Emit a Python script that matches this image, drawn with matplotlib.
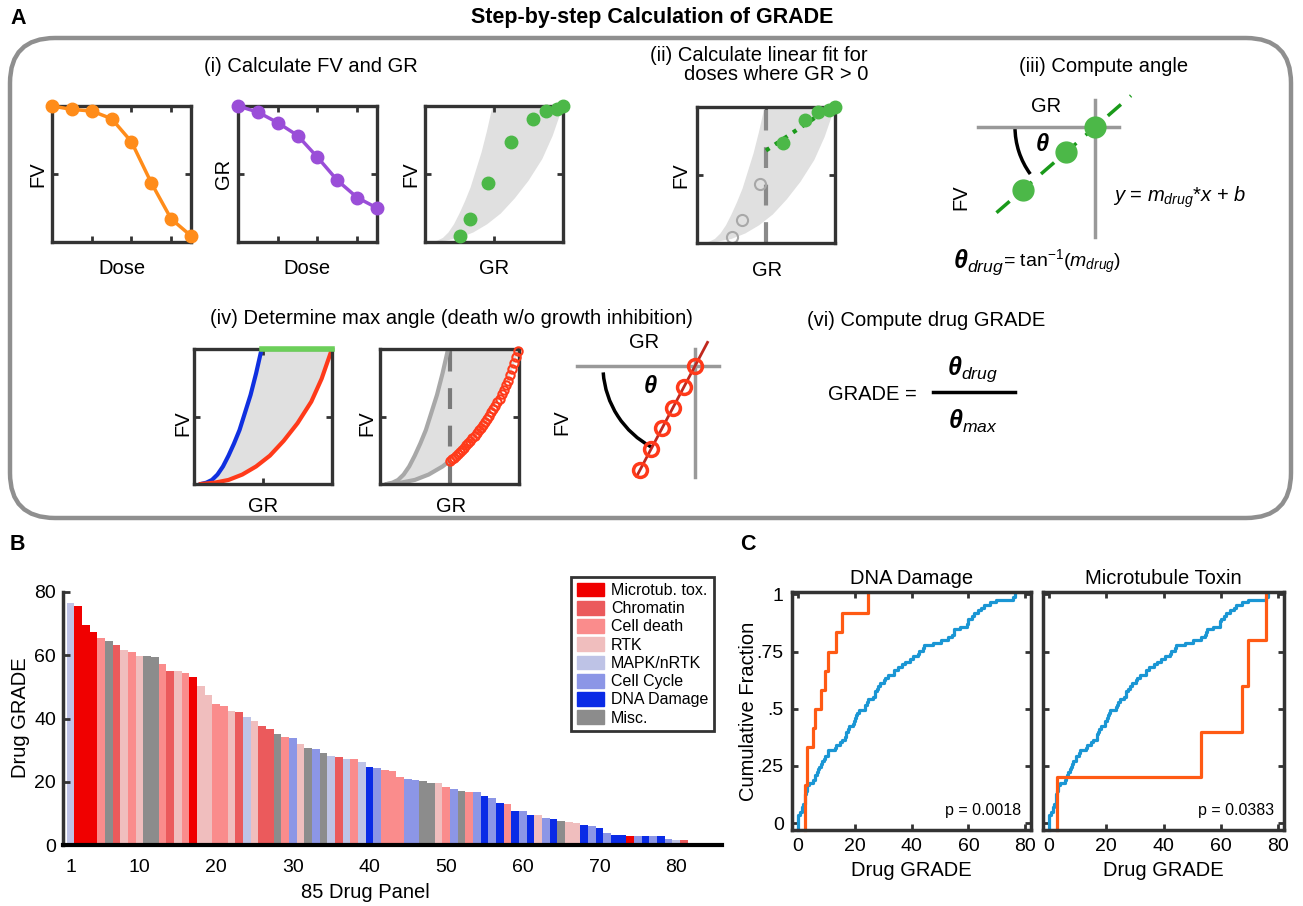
import numpy as np
import matplotlib
matplotlib.use('Agg')
import matplotlib.pyplot as plt
from matplotlib.patches import FancyBboxPatch, Arc, Patch

plt.rcParams['font.family'] = ['Liberation Sans', 'DejaVu Sans']
plt.rcParams['mathtext.fontset'] = 'custom'
plt.rcParams['mathtext.rm'] = 'Liberation Sans'
plt.rcParams['mathtext.it'] = 'Liberation Sans:italic'
plt.rcParams['mathtext.bf'] = 'Liberation Sans:bold:italic'

# ---- data ----
# panel A (i): example dose response
dose = [0, 1, 2, 3, 4, 5, 6, 7]
fv = [1.0, 0.975, 0.963, 0.907, 0.737, 0.435, 0.17, 0.045]
gr = [1.0, 0.91, 0.755, 0.566, 0.247, -0.093, -0.346, -0.5]

# theoretical FV/GR band (GR on x, FV on y)
band_left_gr = [-0.90, -0.82, -0.74, -0.66, -0.58, -0.50, -0.42, -0.34, -0.26, -0.18, -0.10, -0.02]
band_left_fv = [0.00, 0.01, 0.03, 0.07, 0.13, 0.21, 0.30, 0.40, 0.53, 0.66, 0.82, 1.00]
band_right_gr = [-0.90, -0.70, -0.50, -0.30, -0.10, 0.00, 0.10, 0.30, 0.50, 0.70, 0.85, 1.00]
band_right_fv = [0.00, 0.01, 0.03, 0.07, 0.13, 0.17, 0.21, 0.32, 0.45, 0.61, 0.78, 1.00]

# max-angle points along the upper bound (iv)
max_gr = [0.00, 0.03, 0.06, 0.09, 0.12, 0.15, 0.18, 0.21, 0.24, 0.27, 0.30, 0.33,
          0.36, 0.39, 0.42, 0.45, 0.48, 0.51, 0.54, 0.57, 0.60, 0.63, 0.66, 0.69,
          0.72, 0.75, 0.78, 0.81, 0.84, 0.87, 0.90, 0.93, 0.96, 0.99]
max_fv = [0.170, 0.182, 0.194, 0.206, 0.221, 0.237, 0.253, 0.270, 0.287, 0.303, 0.320, 0.339,
          0.358, 0.378, 0.398, 0.418, 0.437, 0.458, 0.481, 0.505, 0.530, 0.555, 0.580, 0.605,
          0.632, 0.665, 0.698, 0.732, 0.766, 0.807, 0.851, 0.895, 0.940, 0.985]

# schematic angle diagrams
iii_slope = 0.87
iii_pts = [-0.724, -0.29, 0.0]
iv_slope = 1.89
iv_pts = [0.0, -0.11, -0.22, -0.33, -0.44, -0.55]

# panel B: 85 drug GRADE values and classes
grade = [76.4, 75.6, 69.6, 67.5, 65.4, 64.4, 63.2, 61.8, 61.1, 59.9,
         59.7, 59.6, 57.1, 55.1, 54.9, 54.3, 53.0, 50.2, 47.5, 44.5,
         43.9, 42.5, 42.2, 40.4, 39.3, 37.7, 36.8, 35.1, 34.0, 33.9,
         31.9, 30.7, 30.5, 29.0, 28.3, 27.7, 27.1, 27.1, 26.4, 24.8,
         24.3, 23.7, 23.5, 21.4, 21.0, 20.6, 20.3, 19.7, 19.5, 18.2,
         17.6, 17.1, 16.9, 16.8, 15.5, 14.9, 13.3, 13.1, 10.8, 10.6,
         9.6, 9.4, 8.5, 8.1, 7.6, 7.3, 6.8, 6.2, 6.0, 5.5,
         3.9, 3.3, 3.1, 2.9, 2.7, 2.7, 2.7, 2.7, 2.0, 1.6,
         1.6, 0.7, 0.0, 0.0, 0.0]
drug_class = ['MAPK', 'MT', 'MT', 'MT', 'CD', 'MISC', 'CH', 'RTK', 'CD', 'RTK',
              'MISC', 'MISC', 'CD', 'CH', 'RTK', 'CD', 'MT', 'RTK', 'RTK', 'CD',
              'CD', 'RTK', 'CH', 'MAPK', 'RTK', 'CH', 'CH', 'MISC', 'CD', 'CC',
              'RTK', 'MISC', 'CC', 'MISC', 'MAPK', 'CH', 'MAPK', 'CD', 'MAPK', 'DNA',
              'CC', 'CD', 'CD', 'CD', 'CC', 'CC', 'MISC', 'MISC', 'RTK', 'CD',
              'CC', 'MISC', 'CD', 'CC', 'DNA', 'CC', 'DNA', 'CD', 'DNA', 'CC',
              'DNA', 'RTK', 'CC', 'DNA', 'MISC', 'RTK', 'RTK', 'DNA', 'CC', 'DNA',
              'CC', 'DNA', 'DNA', 'MT', 'CC', 'DNA', 'CC', 'DNA', 'CC', 'MAPK',
              'CH', 'CC', 'MISC', 'MISC', 'MISC']
class_keys = ['MT', 'CH', 'CD', 'RTK', 'MAPK', 'CC', 'DNA', 'MISC']
class_names = ['Microtub. tox.', 'Chromatin', 'Cell death', 'RTK',
               'MAPK/nRTK', 'Cell Cycle', 'DNA Damage', 'Misc.']
class_colors = ['#f00000', '#eb5a5c', '#fa8c8c', '#f0bebe',
                '#bec3e6', '#8c96e6', '#0a2be6', '#8c8c8c']

# panel C
p_dna = 'p = 0.0018'
p_mt = 'p = 0.0383'

W, H = 1303, 906
fig = plt.figure(figsize=(W / 100, H / 100), dpi=100)
DARK = '#333333'
FS = 14.5


def px_axes(x0, y0, x1, y1):
    return fig.add_axes([x0 / W, 1 - y1 / H, (x1 - x0) / W, (y1 - y0) / H])


def ftext(x, y, s, **kw):
    kw.setdefault('ha', 'center')
    kw.setdefault('va', 'center')
    kw.setdefault('fontsize', FS)
    return fig.text(x / W, 1 - y / H, s, **kw)


# background layer for frame
bg = fig.add_axes([0, 0, 1, 1])
bg.set_xlim(0, W)
bg.set_ylim(H, 0)
bg.axis('off')
bg.add_patch(FancyBboxPatch((10, 38), 1281, 480, boxstyle='round,pad=0,rounding_size=45',
                            fc='none', ec='#8f8f8f', lw=3.2))
bg.plot([933, 1015], [392, 392], color='black', lw=2.5)

ftext(10, 18, 'A', ha='left', fontsize=15.5, fontweight='bold')
ftext(10, 545, 'B', ha='left', fontsize=15.5, fontweight='bold')
ftext(740, 545, 'C', ha='left', fontsize=15.5, fontweight='bold')
ftext(652, 18, 'Step-by-step Calculation of GRADE', fontsize=15.5, fontweight='bold')


def schem_axes(x0, y0, x1, y1):
    ax = px_axes(x0, y0, x1, y1)
    for s in ax.spines.values():
        s.set_color(DARK)
        s.set_linewidth(2.4)
        s.set_zorder(5)
    ax.tick_params(direction='in', length=4, width=2, color=DARK, top=True, right=True,
                   labelbottom=False, labelleft=False)
    return ax


def band(ax):
    xs = list(band_left_gr) + [1.0] + list(band_right_gr[::-1])
    ys = list(band_left_fv) + [1.0] + list(band_right_fv[::-1])
    ax.fill(xs, ys, color='#e0e0e0', lw=0, zorder=1)


# (i)
ftext(311, 67, '(i) Calculate FV and GR')
ax = schem_axes(52, 106, 191, 242)
ax.plot(dose, fv, '-o', color='#ff8c1a', lw=2.5, ms=9, clip_on=False, zorder=6)
ax.set_xlim(0, 7); ax.set_ylim(0, 1)
ax.set_xticks([2, 4, 6]); ax.set_yticks([0.5])
ftext(38, 174, 'FV', rotation=90)
ftext(122, 268, 'Dose')

ax = schem_axes(238, 106, 377, 242)
ax.plot(dose, gr, '-o', color='#9a4ed8', lw=2.5, ms=9, clip_on=False, zorder=6)
ax.set_xlim(0, 7); ax.set_ylim(-1, 1)
ax.set_xticks([2, 4, 6]); ax.set_yticks([0])
ftext(224, 174, 'GR', rotation=90)
ftext(307, 268, 'Dose')

ax = schem_axes(425, 106, 563, 242)
band(ax)
ax.plot(gr, fv, 'o', color='#4cb848', ms=9, clip_on=False, zorder=6)
ax.set_xlim(-1, 1); ax.set_ylim(0, 1)
ax.set_xticks([0]); ax.set_yticks([0.5])
ftext(411, 174, 'FV', rotation=90)
ftext(494, 268, 'GR')

# (ii)
fig.text(868 / W, 1 - 65 / H, '(ii) Calculate linear fit for\ndoses where GR > 0',
         ha='right', va='center', multialignment='right', fontsize=FS, linespacing=1.0)
ax = schem_axes(697, 107, 835, 243)
band(ax)
ax.axvline(0, color='#8a8a8a', lw=3, dashes=(5, 4), zorder=2)
gr_a, fv_a = np.array(gr), np.array(fv)
pos = gr_a > 0
ax.plot(gr_a[~pos], fv_a[~pos], 'o', mfc='none', mec='#a8a8a8', mew=1.5, ms=8, zorder=4)
m_fit, b_fit = np.polyfit(gr_a[pos], fv_a[pos], 1)
ax.plot([0, 1], [b_fit, m_fit + b_fit], color='#1a9a1a', lw=3, ls=(0, (1, 1.6)), zorder=4,
        clip_on=False)
ax.plot(gr_a[pos], fv_a[pos], 'o', color='#4cb848', ms=9, clip_on=False, zorder=6)
ax.set_xlim(-1, 1); ax.set_ylim(0, 1)
ax.set_xticks([0]); ax.set_yticks([0.5])
ftext(681, 175, 'FV', rotation=90)
ftext(767, 270, 'GR')

# (iii) angle schematic, origin at the GR/FV cross
ftext(1104, 67, '(iii) Compute angle')
ax = px_axes(970, 90, 1140, 240)
ax.set_xlim(-1.25, 0.45); ax.set_ylim(-1.13, 0.37)
ax.axis('off')
ax.plot([-1.17, 0.24], [0, 0], color='#999999', lw=2.5)
ax.plot([0, 0], [0.27, -1.1], color='#999999', lw=2.5)
xl = np.array([-0.985, 0.36])
ax.plot(xl, iii_slope * xl, color='#1a9a1a', lw=2.5, dashes=(5, 3.5))
ax.plot(iii_pts, iii_slope * np.array(iii_pts), 'o', color='#4cb848', ms=15, zorder=5)
ax.add_patch(Arc((0, 0), 1.6, 1.6, theta1=180, theta2=216, color='black', lw=2.5))
ftext(1046, 107, 'GR')
ftext(961, 197, 'FV', rotation=90)
ftext(1042, 145, r'$\mathbf{\theta}$', fontsize=17)
ftext(1113, 197, r'$y$ = $m_{drug}$*$x$ + $b$', ha='left', fontsize=14.5)
ftext(953, 262, r'$\mathbf{\theta}_{drug}$', ha='left', fontsize=18)
ftext(1003, 262, r'= tan$^{-1}$($m_{drug}$)', ha='left', fontsize=14)

# (iv)
ftext(451, 318, '(iv) Determine max angle (death w/o growth inhibition)')
ax = schem_axes(194, 349, 332, 484)
band(ax)
ax.plot(band_left_gr, band_left_fv, color='#1030e0', lw=3, zorder=3)
ax.plot(band_right_gr, band_right_fv, color='#ff3a1a', lw=3, zorder=3)
ax.plot([band_left_gr[-1], 1.0], [1.0, 1.0], color='#6ccf5a', lw=4, zorder=7, clip_on=False)
ax.set_xlim(-1, 1); ax.set_ylim(0, 1)
ax.set_xticks([0]); ax.set_yticks([0.5])
ftext(183, 423, 'FV', rotation=90)
ftext(263, 507, 'GR')

ax = schem_axes(380, 349, 519, 484)
band(ax)
ax.plot(band_left_gr, band_left_fv, color='#a8a8a8', lw=3, zorder=3)
ax.plot([band_left_gr[-1], 1.0], [1.0, 1.0], color='#a8a8a8', lw=3, zorder=3)
ax.plot(band_right_gr[:6], band_right_fv[:6], color='#a8a8a8', lw=3, zorder=3)
ax.axvline(0, color='#7a7a7a', lw=3, dashes=(5, 4), zorder=2)
ax.plot(max_gr, max_fv, 'o', mfc='none', mec='#ff3a1a', mew=1.5, ms=6, zorder=6, clip_on=False)
ax.set_xlim(-1, 1); ax.set_ylim(0, 1)
ax.set_xticks([0]); ax.set_yticks([0.5])
ftext(367, 423, 'FV', rotation=90)
ftext(451, 507, 'GR')

ax = px_axes(565, 335, 725, 495)
ax.set_xlim(-1.30, 0.30); ax.set_ylim(-1.29, 0.31)
ax.axis('off')
ax.plot([-1.18, 0.24], [0, 0], color='#999999', lw=2.5)
ax.plot([0, 0], [0.17, -1.11], color='#999999', lw=2.5)
xl = np.array([-0.584, 0.125])
ax.plot(xl, iv_slope * xl, color='#c0281e', lw=2)
ax.plot(iv_pts, iv_slope * np.array(iv_pts), 'o', mfc='none', mec='#ff3a1a', mew=2.5, ms=10, zorder=5)
ax.add_patch(Arc((0, 0), 1.84, 1.84, theta1=184, theta2=242, color='black', lw=2.5))
ftext(644, 343, 'GR')
ftext(562, 422, 'FV', rotation=90)
ftext(650, 387, r'$\mathbf{\theta}$', fontsize=17)

# (vi)
ftext(926, 320, '(vi) Compute drug GRADE')
ftext(917, 394, 'GRADE =', ha='right')
ftext(973, 369, r'$\mathbf{\theta}_{drug}$', fontsize=18)
ftext(973, 421, r'$\mathbf{\theta}_{max}$', fontsize=18)

# ---- panel B ----
axB = px_axes(63, 592, 722, 845)
idx = np.arange(1, len(grade) + 1)
cmap = dict(zip(class_keys, class_colors))
axB.bar(idx, grade, width=1.0, color=[cmap[c] for c in drug_class], lw=0)
axB.set_xlim(0, 86); axB.set_ylim(0, 80)
axB.spines['top'].set_visible(False)
axB.spines['right'].set_visible(False)
axB.spines['left'].set_color(DARK); axB.spines['left'].set_linewidth(2.5)
axB.spines['bottom'].set_color('black'); axB.spines['bottom'].set_linewidth(3)
axB.set_yticks([0, 20, 40, 60, 80])
axB.set_xticks([1, 10, 20, 30, 40, 50, 60, 70, 80])
axB.tick_params(axis='y', direction='in', length=5, width=2, color=DARK, labelsize=14, pad=5)
axB.tick_params(axis='x', length=0, labelsize=14, pad=10)
ftext(21, 718, 'Drug GRADE', rotation=90)
ftext(365, 892, '85 Drug Panel')
handles = [Patch(color=c, label=n) for c, n in zip(class_colors, class_names)]
leg = axB.legend(handles=handles, loc='upper right', bbox_to_anchor=(714 / W, 1 - 577 / H),
                 bbox_transform=fig.transFigure, fontsize=11.5, frameon=True, fancybox=False,
                 handlelength=1.7, handleheight=0.95, labelspacing=0.18, borderpad=0.35,
                 handletextpad=0.45, borderaxespad=0)
leg.get_frame().set_edgecolor('black')
leg.get_frame().set_linewidth(2)

# ---- panel C ----
BLUE = '#1a96d4'
ORANGE = '#ff5a14'
grade_a = np.array(grade)
cls_a = np.array(drug_class)


def cdf_line(ax, vals, color):
    v = np.sort(vals)
    n = len(v)
    xs = np.concatenate([[v[0]], v])
    ys = np.concatenate([[-0.03], np.arange(1, n + 1) / n])
    ax.step(xs, ys, where='post', color=color, lw=2.3, clip_on=False)


for x0, x1, key, title, ptxt in [(792, 1031, 'DNA', 'DNA Damage', p_dna),
                                 (1043, 1284, 'MT', 'Microtubule Toxin', p_mt)]:
    ax = px_axes(x0, 592, x1, 830)
    cdf_line(ax, grade_a, BLUE)
    cdf_line(ax, grade_a[cls_a == key], ORANGE)
    ax.set_xlim(-2, 82); ax.set_ylim(-0.03, 1.01)
    for s in ax.spines.values():
        s.set_color(DARK); s.set_linewidth(2.5); s.set_zorder(5)
    ax.set_xticks([0, 20, 40, 60, 80])
    ax.set_yticks([0, 0.25, 0.5, 0.75, 1])
    ax.tick_params(direction='in', length=4, width=2, color=DARK, top=True, right=True,
                   labelsize=14, pad=6)
    if key == 'DNA':
        ax.set_yticklabels(['0', '.25', '.5', '.75', '1'])
    else:
        ax.set_yticklabels([])
    ax.set_title(title, fontsize=FS, pad=6)
    ax.text(0.96, 0.05, ptxt, transform=ax.transAxes, ha='right', va='bottom', fontsize=11.5)
    ftext((x0 + x1) / 2, 870, 'Drug GRADE')
ftext(749, 711, 'Cumulative Fraction', rotation=90)

fig.savefig('out.png', dpi=100)
